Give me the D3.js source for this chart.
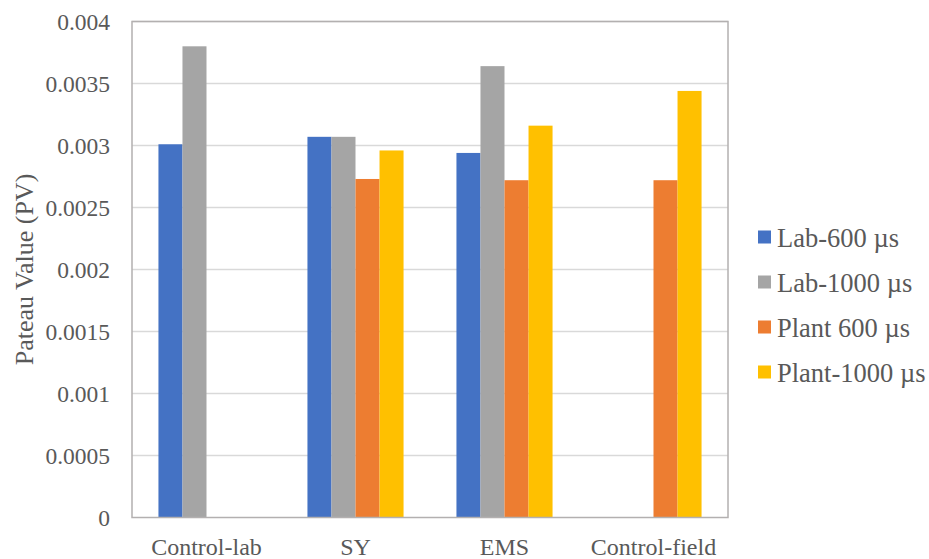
<!DOCTYPE html>
<html>
<head>
<meta charset="utf-8">
<script src="https://cdn.jsdelivr.net/npm/d3@7"></script>
<style>
  html, body { margin: 0; padding: 0; background: #fff; }
  svg { display: block; }
  svg text { font-family: "Liberation Serif", "Times New Roman", serif; fill: #595959; }
</style>
</head>
<body>
<svg id="chart" width="929" height="559" font-family="Liberation Serif, serif"></svg>
<script>
// Treatment groups along the x axis
const categories = ["Control-lab", "SY", "EMS", "Control-field"];
// Series names (legend order)
const seriesNames = ["Lab-600 µs", "Lab-1000 µs", "Plant 600 µs", "Plant-1000 µs"];
const seriesColors = ["#4472C4", "#A5A5A5", "#ED7D31", "#FFC000"];
// Plateau values per series, one entry per category (null = not measured)
const lab600   = [0.00301, 0.00307, 0.00294, null];
const lab1000  = [0.00380, 0.00307, 0.00364, null];
const plant600 = [null,    0.00273, 0.00272, 0.00272];
const plant1000= [null,    0.00296, 0.00316, 0.00344];
const yTicks = [0, 0.0005, 0.001, 0.0015, 0.002, 0.0025, 0.003, 0.0035, 0.004];
const yTickLabels = ["0", "0.0005", "0.001", "0.0015", "0.002", "0.0025", "0.003", "0.0035", "0.004"];
const yTitle = "Pateau Value (PV)";

const seriesValues = [lab600, lab1000, plant600, plant1000];

const svg = d3.select("#chart");
const plot = { left: 132, top: 21.5, right: 728, bottom: 517.5 };

const x = d3.scaleBand().domain(categories).range([plot.left, plot.right]).paddingInner(0).paddingOuter(0);
const y = d3.scaleLinear().domain([0, 0.004]).range([plot.bottom, plot.top]);

// Bars occupy a fixed share of each band, series placed side by side
const groupWidth = x.bandwidth() * 0.645;
const xs = d3.scaleBand().domain(d3.range(seriesNames.length))
  .range([(x.bandwidth() - groupWidth) / 2, (x.bandwidth() + groupWidth) / 2]);

// Horizontal gridlines
svg.append("g").selectAll("line").data(yTicks.slice(1)).join("line")
  .attr("x1", plot.left).attr("x2", plot.right)
  .attr("y1", d => y(d)).attr("y2", d => y(d))
  .attr("stroke", "#d9d9d9").attr("stroke-width", 1.5);

// Bars
const barData = [];
seriesValues.forEach((vals, si) => vals.forEach((v, ci) => {
  if (v != null) barData.push({ si, cat: categories[ci], v });
}));
svg.append("g").selectAll("rect").data(barData).join("rect")
  .attr("x", d => x(d.cat) + xs(d.si))
  .attr("width", xs.bandwidth())
  .attr("y", d => y(d.v))
  .attr("height", d => y(0) - y(d.v))
  .attr("fill", d => seriesColors[d.si]);

// Plot frame
svg.append("rect")
  .attr("x", plot.left).attr("y", plot.top)
  .attr("width", plot.right - plot.left).attr("height", plot.bottom - plot.top)
  .attr("fill", "none").attr("stroke", "#b3b0b0").attr("stroke-width", 1.5);

// Y axis labels
const yAxis = d3.axisLeft(y).tickValues(yTicks)
  .tickFormat((d, i) => yTickLabels[i]).tickSize(0).tickPadding(22);
const gy = svg.append("g").attr("transform", `translate(${plot.left},0)`).call(yAxis)
  .attr("font-family", "Liberation Serif, serif");
gy.select(".domain").remove();
gy.selectAll("text").style("font-size", "23.5px").attr("fill", "#595959");

// X axis labels
const xAxis = d3.axisBottom(x).tickSize(0).tickPadding(20);
const gx = svg.append("g").attr("transform", `translate(0,${plot.bottom})`).call(xAxis)
  .attr("font-family", "Liberation Serif, serif");
gx.select(".domain").remove();
gx.selectAll("text").style("font-size", "24px").attr("fill", "#595959");

// Y axis title
svg.append("text")
  .attr("transform", `translate(33,${(plot.top + plot.bottom) / 2 + 0}) rotate(-90)`)
  .attr("text-anchor", "middle")
  .style("font-size", "26px")
  .text(yTitle);

// Legend
const legend = svg.append("g").attr("transform", "translate(758,237)");
const rows = legend.selectAll("g").data(seriesNames).join("g")
  .attr("transform", (d, i) => `translate(0,${i * 45})`);
rows.append("rect").attr("x", 0).attr("y", -6.5).attr("width", 13).attr("height", 13)
  .attr("fill", (d, i) => seriesColors[i]);
rows.append("text").attr("x", 19).attr("y", 1).attr("dy", "0.35em")
  .style("font-size", "26.5px").text(d => d);
</script>
</body>
</html>
